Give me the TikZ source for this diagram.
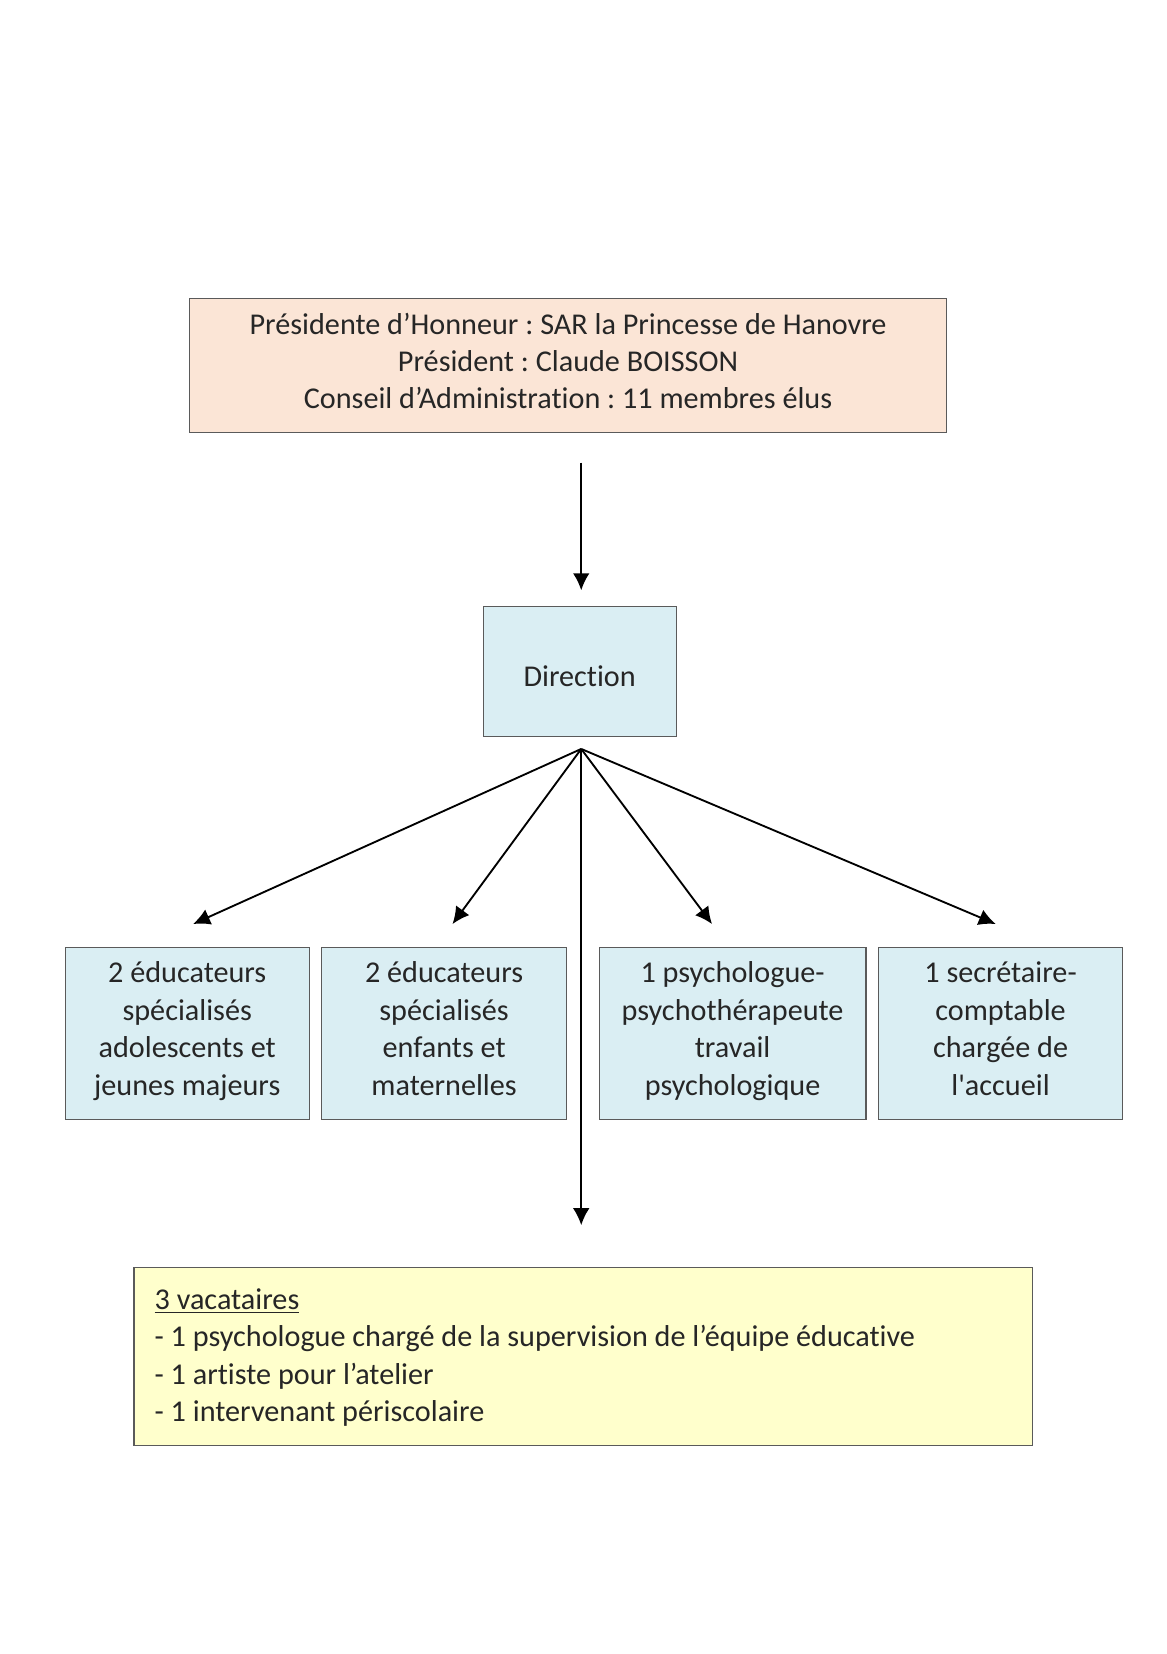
\documentclass[tikz,border=0pt]{standalone}
\usepackage{fontspec}
\setmainfont{Carlito}[Ligatures={TeX,NoCommon}]
\usepackage{xcolor}
\usetikzlibrary{arrows.meta,positioning}
\definecolor{peach}{HTML}{FBE5D6}
\definecolor{paleblue}{HTML}{DAEEF3}
\definecolor{paleyellow}{HTML}{FFFFCC}
\definecolor{boxline}{HTML}{5A5A5A}
\definecolor{ink}{HTML}{262626}
\frenchspacing

\begin{document}
\begin{tikzpicture}[x=0.51pt,y=-0.51pt,>={Latex[length=8.2pt,width=8pt]},
    frame/.style={draw=boxline,line width=0.5pt,inner sep=0pt,text=ink,
      font=\fontsize{14.6}{18.1}\selectfont},
    box/.style={frame,align=center,
      execute at begin node=\rule{0pt}{19pt},
      execute at end node=\rule[-4.5pt]{0pt}{4.5pt}},
    staff/.style={box,fill=paleblue,minimum height=83.1pt},
    link/.style={->,line width=0.9pt}]
\useasboundingbox (0,0) rectangle (1105.4,1568);

\node[box,fill=peach,minimum width=365.7pt,minimum height=64.8pt] (conseil) at (538.5,346.5)
  {Présidente d’Honneur : SAR la Princesse de Hanovre\\Président : Claude BOISSON\\Conseil d’Administration : 11 membres élus};
\node[box,fill=paleblue,minimum width=93.3pt,minimum height=62.7pt] (direction) at (549.5,636.5) {Direction};

\node[staff,minimum width=117.8pt] (educado) at (177.5,979.5) {2 éducateurs\\spécialisés\\adolescents et\\jeunes majeurs};
\node[staff,minimum width=118.3pt] (educenf) at (421,979.5) {2 éducateurs\\spécialisés\\enfants et\\maternelles};
\node[staff,minimum width=129pt] (psycho) at (694.5,979.5) {1 psychologue-\\psychothérapeute\\travail\\psychologique};
\node[staff,minimum width=117.8pt] (secret) at (948.5,979.5) {1 secrétaire-\\comptable\\chargée de\\l\textquotesingle accueil};

\node[frame,fill=paleyellow,minimum width=434.5pt,minimum height=85.7pt,text width=414.5pt,align=flush left,
      execute at begin node=\rule{0pt}{14pt},execute at end node=\strut] (vacataires) at (553,1286)
  {\underline{3 vacataires}\\- 1 psychologue chargé de la supervision de l’équipe éducative\\- 1 artiste pour l’atelier\\- 1 intervenant périscolaire};

% fan below Direction
\coordinate (fan) at (551,710);
\coordinate (tipado) at (183,876);
\coordinate (tipenf) at (429,876);
\coordinate (tippsy) at (675,876);
\coordinate (tipsec) at (944,876);

\draw[link,shorten <=14.3pt,shorten >=7.6pt] (conseil.south -| fan) -- (direction.north -| fan);
\draw[link] (fan) -- (tipado);
\draw[link] (fan) -- (tipenf);
\draw[link] (fan) -- (tippsy);
\draw[link] (fan) -- (tipsec);
\draw[link,shorten >=20.4pt] (fan) -- (vacataires.north -| fan);
\end{tikzpicture}
\end{document}
